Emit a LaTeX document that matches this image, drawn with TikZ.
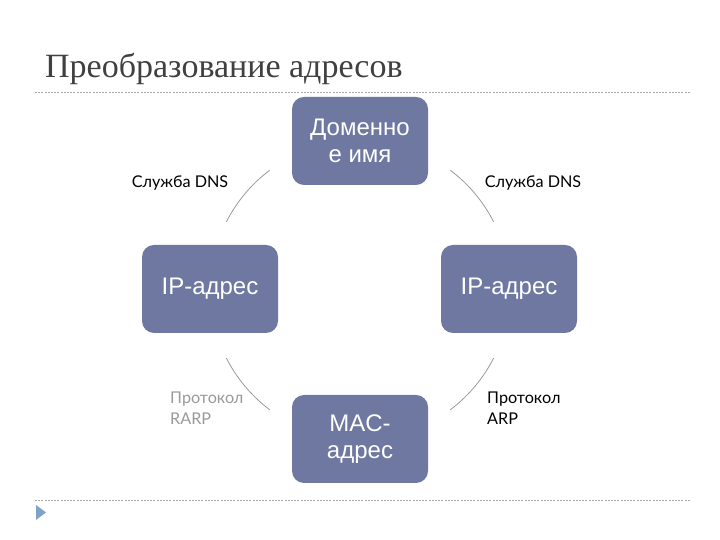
\documentclass[tikz,border=0pt]{standalone}
\usepackage{fontspec}
\usetikzlibrary{calc}
\setmainfont{Liberation Serif}
\newfontfamily\boxfont{Liberation Sans}
\newfontfamily\lblfont{Lato}
\definecolor{boxcol}{HTML}{6E78A0}
\definecolor{titlecol}{HTML}{404040}
\definecolor{arccol}{HTML}{9A9A9A}
\definecolor{rulecol}{HTML}{A8A8A8}
\definecolor{tricol}{HTML}{7FA3C6}
\begin{document}
\begin{tikzpicture}[x=1pt,y=1pt,
  addrbox/.style={rectangle, rounded corners=12pt, fill=boxcol, text=white,
    minimum width=136pt, minimum height=88pt, align=center, inner sep=2pt,
    font=\boxfont\fontsize{24}{27}\selectfont},
  lbl/.style={font=\lblfont\fontsize{16.2}{21}\selectfont, text=black, inner sep=0pt, align=left},
  arcline/.style={draw=arccol, line width=0.8pt},
  rule/.style={draw=rulecol, line width=0.8pt, dash pattern=on 2pt off 1.2pt}]
\useasboundingbox (0,0) rectangle (720,540);
\fill[white] (0,0) rectangle (720,540);
% title
\node[anchor=base west, inner sep=0pt, text=titlecol, font=\fontsize{34}{38}\selectfont] (title) at (45,462) {Преобразование адресов};
% rules
\coordinate (r1a) at (35,448); \coordinate (r1b) at (690,448);
\coordinate (r2a) at (35,40); \coordinate (r2b) at (690,40);
\draw[rule] (r1a) -- (r1b);
\draw[rule] (r2a) -- (r2b);
% triangle bullet
\coordinate (t1) at (36,35); \coordinate (t2) at (36,20); \coordinate (t3) at (46,27.5);
\fill[tricol] (t1) -- (t2) -- (t3) -- cycle;
% boxes
\node[addrbox] (dom) at (360,399) {Доменно\\е имя};
\node[addrbox] (ipl) at (210,251) {IP-адрес};
\node[addrbox] (ipr) at (509,251) {IP-адрес};
\node[addrbox] (mac) at (360,101) {MAC-\\адрес};
% arcs
\coordinate (c) at (360,250);
\draw[arcline] ($(c)+(127:150pt)$) arc[start angle=127, end angle=153, radius=150pt];
\draw[arcline] ($(c)+(27:150pt)$) arc[start angle=27, end angle=53, radius=150pt];
\draw[arcline] ($(c)+(207:150pt)$) arc[start angle=207, end angle=233, radius=150pt];
\draw[arcline] ($(c)+(307:150pt)$) arc[start angle=307, end angle=333, radius=150pt];
% labels
\node[lbl] (dnsl) at (180,357) {Служба DNS};
\node[lbl] (dnsr) at (533,357) {Служба DNS};
\node[lbl, anchor=west, text=arccol] (rarp) at (170,132) {Протокол\\RARP};
\node[lbl, anchor=west] (arp) at (487,132) {Протокол\\ARP};
\end{tikzpicture}
\end{document}
